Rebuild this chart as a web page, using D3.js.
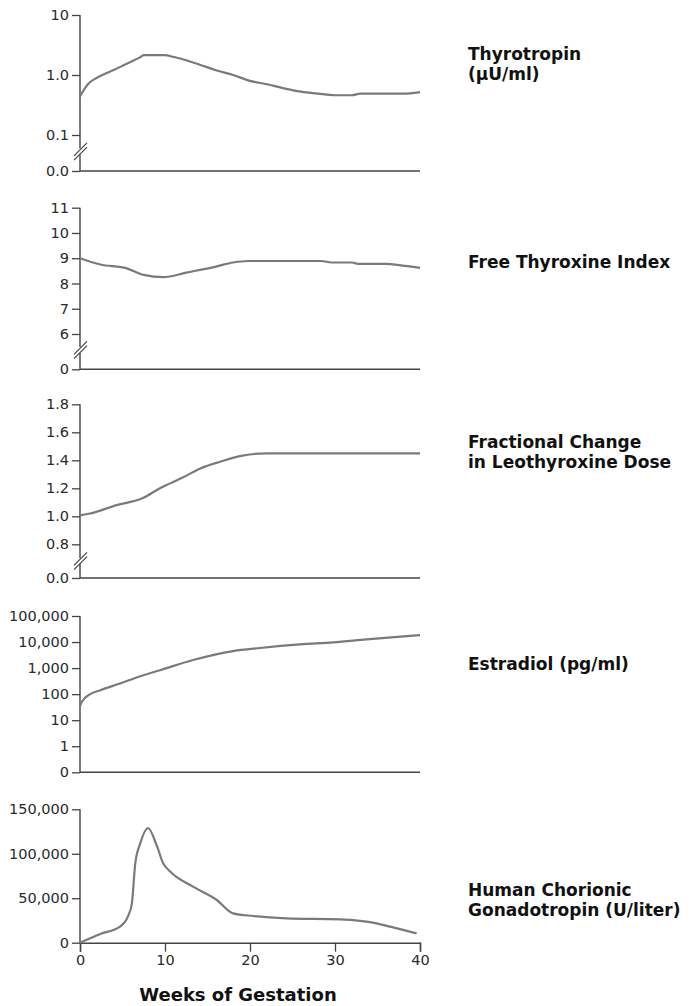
<!DOCTYPE html>
<html>
<head>
<meta charset="utf-8">
<script src="https://cdn.jsdelivr.net/npm/d3@7"></script>
<style>
  html, body { margin: 0; padding: 0; background: #fff; }
  svg { display: block; }
  .tick text { font-family: "DejaVu Sans", sans-serif; font-size: 14.5px; fill: #2a2a2a; }
  .lbl { font-family: "DejaVu Sans", sans-serif; font-weight: bold; font-size: 17px; fill: #111; }
</style>
</head>
<body>
<svg id="chart" width="691" height="1006"></svg>
<script>
// ---------- Data ----------
const xTicks = [0, 10, 20, 30, 40];

const tshWeeks  = [0, 1, 2, 3, 4, 5, 6, 7, 7.5, 10, 11, 12, 14, 16, 18, 20, 22, 24, 26, 28, 30, 32, 33, 36, 38, 40];
const tshValues = [0.44, 0.72, 0.9, 1.06, 1.22, 1.42, 1.66, 1.95, 2.15, 2.15, 2.0, 1.85, 1.5, 1.2, 1.0, 0.8, 0.7, 0.6, 0.53, 0.49, 0.46, 0.46, 0.49, 0.49, 0.49, 0.52];
const tshTicks  = [0.1, 1, 10];
const tshTickLabels = ["0.1", "1.0", "10"];

const ftiWeeks  = [0, 2.4, 5.5, 7.5, 9.8, 12.5, 16, 18, 19.8, 28.4, 29.6, 32, 32.7, 35.9, 38.2, 40];
const ftiValues = [9.0, 8.75, 8.6, 8.34, 8.25, 8.43, 8.67, 8.83, 8.89, 8.89, 8.83, 8.83, 8.78, 8.78, 8.7, 8.62];
const ftiTicks  = [6, 7, 8, 9, 10, 11];
const ftiTickLabels = ["6", "7", "8", "9", "10", "11"];

const doseWeeks  = [0, 1.2, 4.3, 7.4, 9.4, 12.2, 14.1, 16.5, 18.8, 22, 40];
const doseValues = [1.007, 1.02, 1.08, 1.13, 1.2, 1.28, 1.34, 1.39, 1.43, 1.45, 1.45];
const doseTicks  = [0.8, 1.0, 1.2, 1.4, 1.6, 1.8];
const doseTickLabels = ["0.8", "1.0", "1.2", "1.4", "1.6", "1.8"];

const e2Weeks  = [0, 0.2, 1.2, 2.4, 4.7, 7.1, 9.4, 13.3, 18, 21.2, 25.9, 29.8, 33.7, 40];
const e2Values = [35, 50, 100, 142, 257, 490, 830, 2040, 4500, 5900, 8100, 9700, 12600, 18500];
const e2Ticks  = [0.1, 1, 10, 100, 1000, 10000, 100000];
const e2TickLabels = ["0", "1", "10", "100", "1,000", "10,000", "100,000"];

const hcgWeeks  = [0, 2.4, 4.7, 5.7, 6.1, 6.5, 7.1, 8, 9.0, 9.8, 10.6, 13.3, 16.1, 18, 20.4, 24.3, 30.6, 34.9, 36.5, 39.6];
const hcgValues = [0, 9800, 18000, 31000, 44000, 89000, 112000, 129000, 110000, 89000, 80000, 63000, 48000, 33000, 30000, 27400, 26300, 21800, 18000, 10500];
const hcgTicks  = [0, 50000, 100000, 150000];
const hcgTickLabels = ["0", "50,000", "100,000", "150,000"];

const panelLabels = [
  ["Thyrotropin", "(\u03bcU/ml)"],
  ["Free Thyroxine Index"],
  ["Fractional Change", "in Leothyroxine Dose"],
  ["Estradiol (pg/ml)"],
  ["Human Chorionic", "Gonadotropin (U/liter)"]
];
const xTitle = "Weeks of Gestation";

// ---------- Layout ----------
const svg = d3.select("#chart");
const x = d3.scaleLinear().domain([0, 40]).range([80, 420]);
const axisColor = "#444";
const lineColor = "#7a7a7a";

const panels = [
  { weeks: tshWeeks, values: tshValues, ticks: tshTicks, labels: tshTickLabels,
    y: d3.scaleLog().domain([0.1, 10]).range([135, 15]), base: 171, zero: "0.0", brk: 151.5,
    lab: panelLabels[0], labY: 60 },
  { weeks: ftiWeeks, values: ftiValues, ticks: ftiTicks, labels: ftiTickLabels,
    y: d3.scaleLinear().domain([6, 11]).range([334, 207.7]), base: 369.3, zero: "0", brk: 350,
    lab: panelLabels[1], labY: 268 },
  { weeks: doseWeeks, values: doseValues, ticks: doseTicks, labels: doseTickLabels,
    y: d3.scaleLinear().domain([0.8, 1.8]).range([544.3, 404.3]), base: 578, zero: "0.0", brk: 561,
    lab: panelLabels[2], labY: 448 },
  { weeks: e2Weeks, values: e2Values, ticks: e2Ticks, labels: e2TickLabels,
    y: d3.scaleLog().domain([0.1, 100000]).range([772.3, 616]), base: 772.3, zero: null, brk: null,
    lab: panelLabels[3], labY: 670 },
  { weeks: hcgWeeks, values: hcgValues, ticks: hcgTicks, labels: hcgTickLabels,
    y: d3.scaleLinear().domain([0, 150000]).range([942.7, 809.3]), base: 942.7, zero: null, brk: null,
    lab: panelLabels[4], labY: 896, xAxis: true }
];

panels.forEach(p => {
  const g = svg.append("g");
  const top = p.y.range()[1];

  const ya = d3.axisLeft(p.y).tickValues(p.ticks).tickSize(8).tickPadding(3)
    .tickFormat((d, i) => p.labels[i]);
  const yg = g.append("g").attr("transform", "translate(80,0)").call(ya);
  yg.select(".domain").remove();
  yg.selectAll(".tick line").attr("stroke", axisColor).attr("stroke-width", 1.3);

  if (p.zero) {
    const z = d3.scaleLinear().domain([0, 1]).range([p.base, p.base - 10]);
    const zg = g.append("g").attr("transform", "translate(80,0)")
      .call(d3.axisLeft(z).tickValues([0]).tickSize(8).tickPadding(3).tickFormat(() => p.zero));
    zg.select(".domain").remove();
    zg.selectAll(".tick line").attr("stroke", axisColor).attr("stroke-width", 1.3);
  }

  if (p.brk) {
    g.append("line").attr("x1", 80).attr("x2", 80).attr("y1", top).attr("y2", p.brk - 3)
      .attr("stroke", axisColor).attr("stroke-width", 1.4);
    g.append("line").attr("x1", 80).attr("x2", 80).attr("y1", p.brk + 3).attr("y2", p.base)
      .attr("stroke", axisColor).attr("stroke-width", 1.4);
    [-2.2, 2.2].forEach(o => {
      g.append("line")
        .attr("x1", 74).attr("y1", p.brk + 6.5 + o)
        .attr("x2", 87).attr("y2", p.brk - 6.5 + o)
        .attr("stroke", axisColor).attr("stroke-width", 1.2);
    });
  } else {
    g.append("line").attr("x1", 80).attr("x2", 80).attr("y1", top).attr("y2", p.base)
      .attr("stroke", axisColor).attr("stroke-width", 1.4);
  }

  if (p.xAxis) {
    const xg = g.append("g").attr("transform", `translate(0,${p.base})`)
      .call(d3.axisBottom(x).tickValues(xTicks).tickSize(9).tickPadding(3));
    xg.select(".domain").attr("stroke", axisColor).attr("stroke-width", 1.5);
    xg.selectAll(".tick line").attr("stroke", axisColor).attr("stroke-width", 1.3);
  } else {
    g.append("line").attr("x1", 80).attr("x2", 420).attr("y1", p.base).attr("y2", p.base)
      .attr("stroke", axisColor).attr("stroke-width", 1.5);
  }

  const pts = p.weeks.map((w, i) => [w, p.values[i]]);
  const line = d3.line().x(d => x(d[0])).y(d => p.y(d[1])).curve(d3.curveMonotoneX);
  g.append("path").datum(pts).attr("d", line)
    .attr("fill", "none").attr("stroke", lineColor).attr("stroke-width", 2.2)
    .attr("stroke-linejoin", "round");

  const t = g.append("text").attr("class", "lbl").attr("x", 468).attr("y", p.labY);
  p.lab.forEach((s, i) => {
    t.append("tspan").attr("x", 468).attr("dy", i === 0 ? 0 : 20).text(s);
  });
});

svg.append("text").attr("class", "lbl").style("font-size", "18px")
  .attr("x", 238).attr("y", 1001).attr("text-anchor", "middle").text(xTitle);
</script>
</body>
</html>
